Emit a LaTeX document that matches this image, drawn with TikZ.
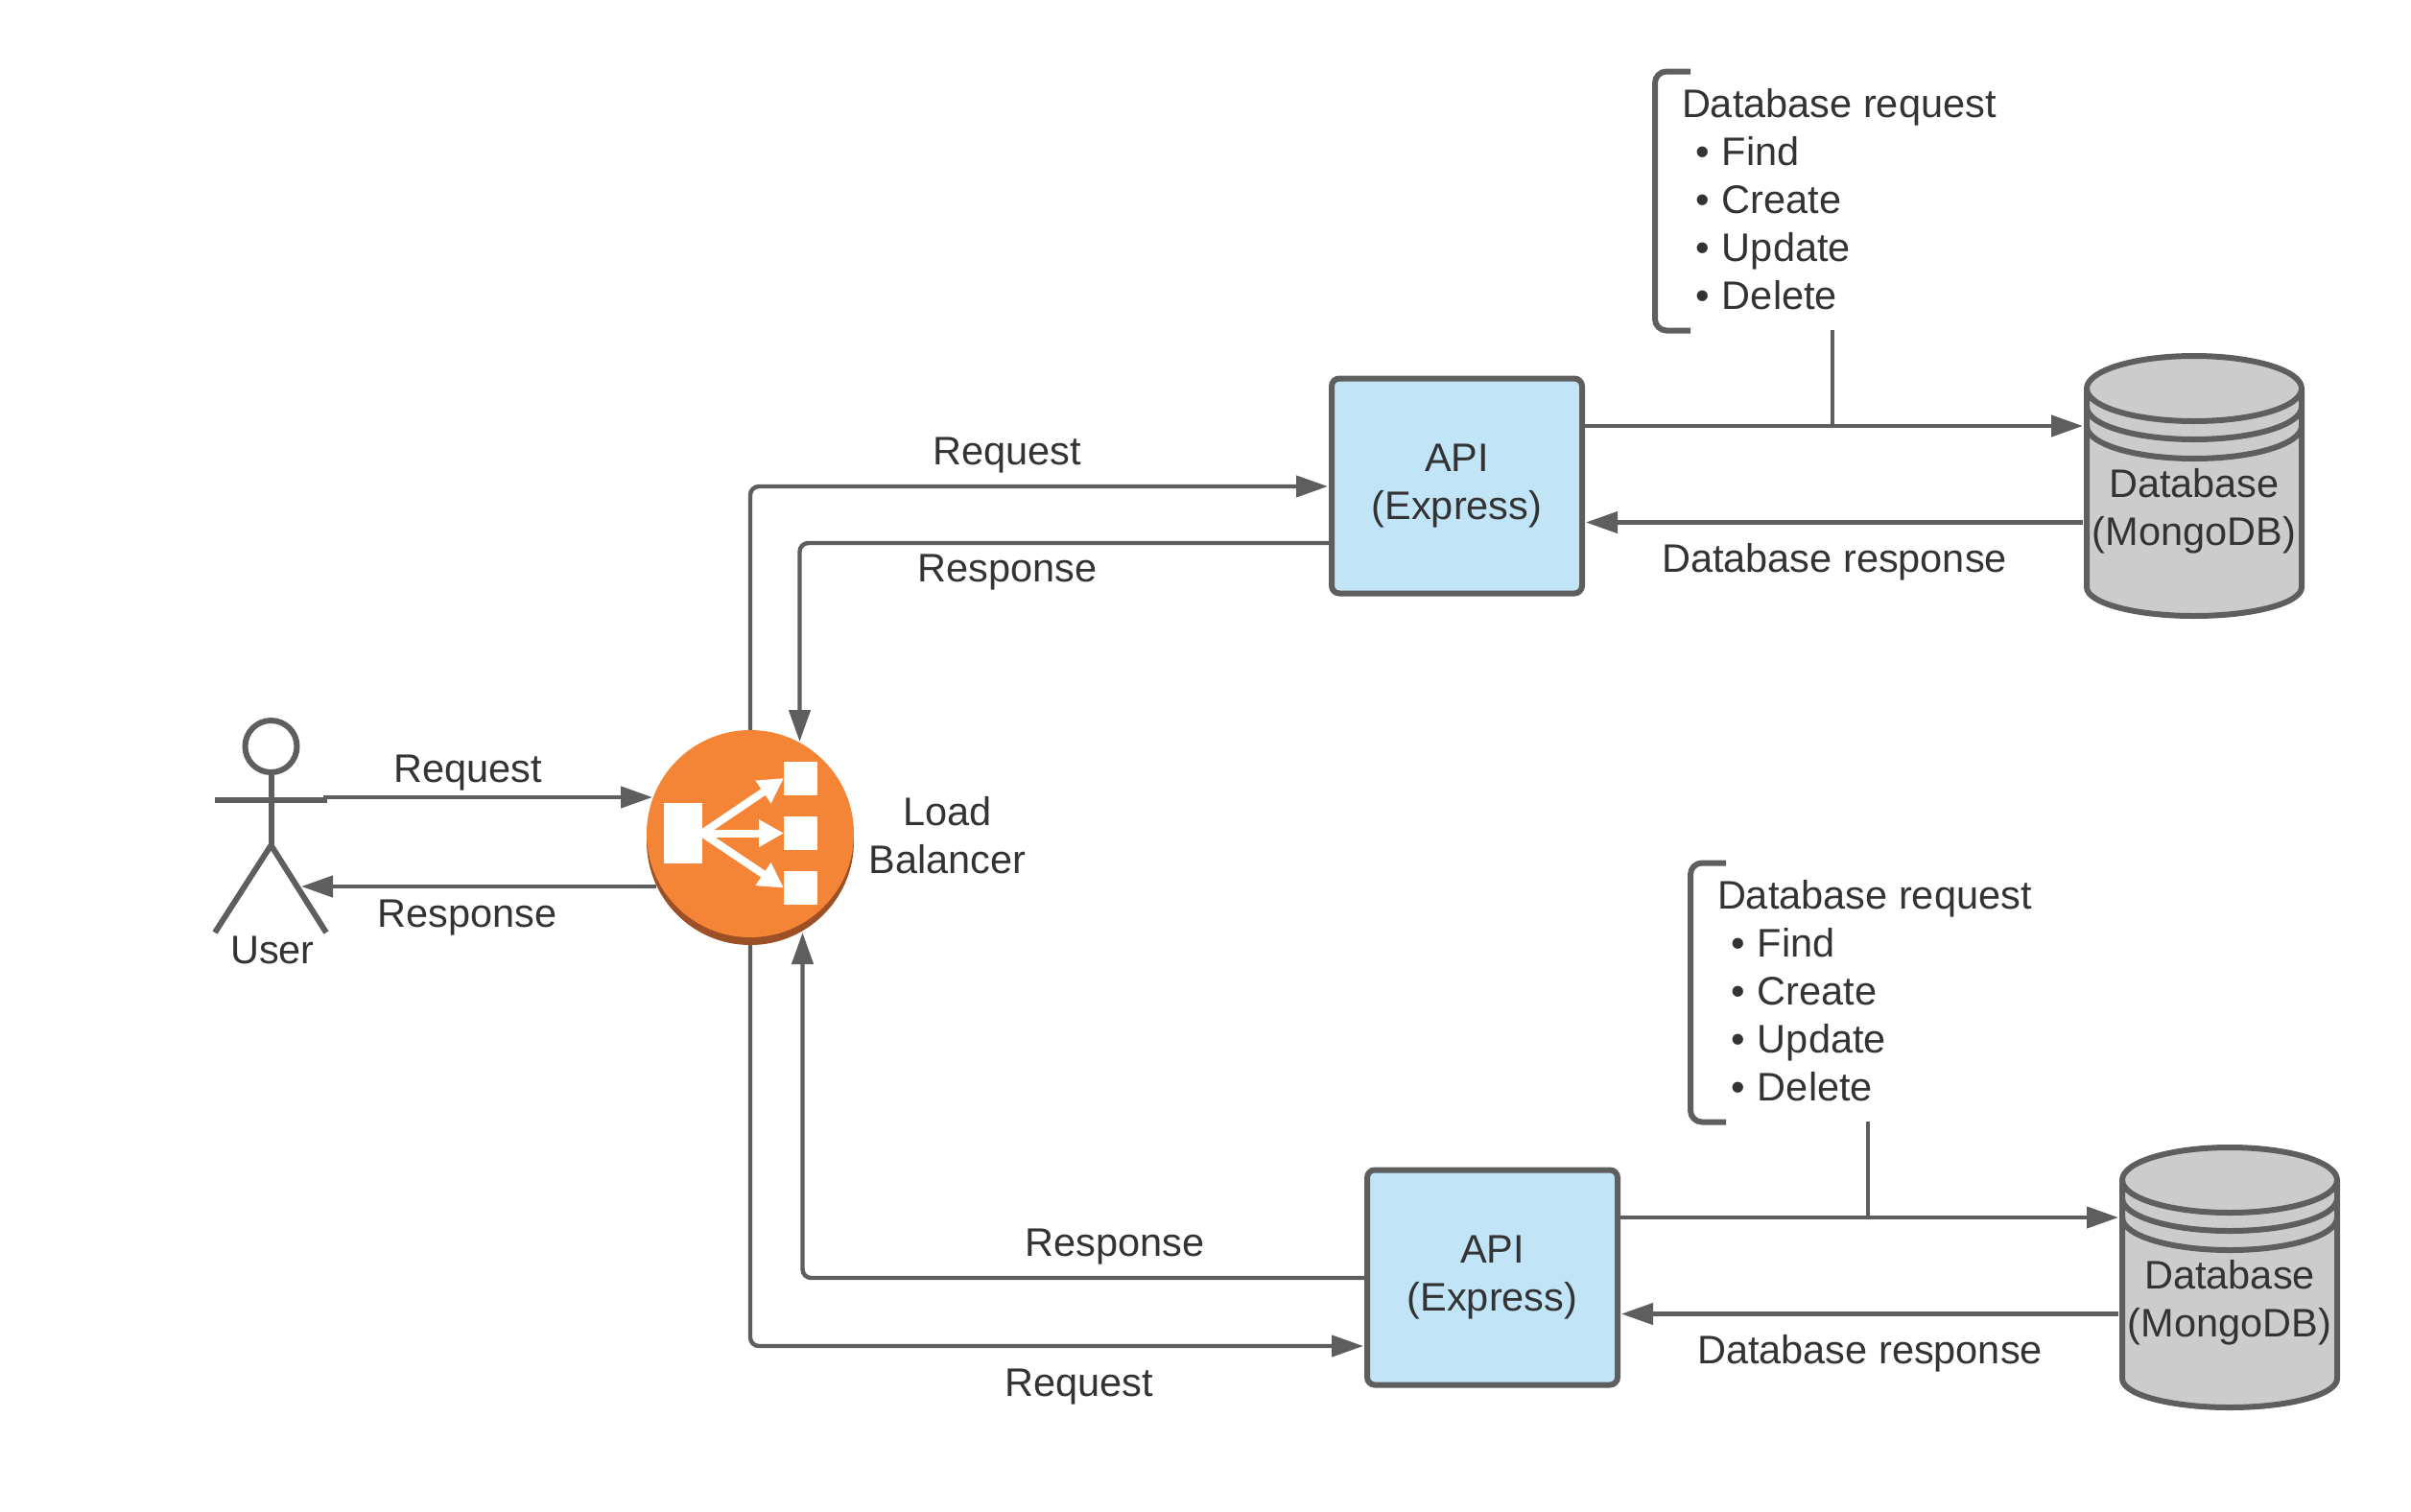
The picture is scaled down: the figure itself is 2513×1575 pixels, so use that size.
\documentclass[tikz,border=0pt]{standalone}
\usepackage{fontspec}
\setmainfont{Liberation Sans}
\usetikzlibrary{arrows.meta}
\definecolor{linegray}{HTML}{5E5E5E}
\definecolor{textgray}{HTML}{333333}
\definecolor{apiblue}{HTML}{C1E4F7}
\definecolor{dbgray}{HTML}{CCCCCC}
\definecolor{lborange}{HTML}{F58536}
\definecolor{lbbrown}{HTML}{9D5025}
\tikzset{
  txt/.style={font=\fontsize{41.5}{50}\selectfont,text=textgray,inner sep=0pt,outer sep=0pt},
  lbl/.style={txt,anchor=base},
  conn/.style={draw=linegray,line width=4.4pt,-{Triangle[length=33pt,width=22pt]},rounded corners=9pt},
  plain/.style={draw=linegray,line width=4.4pt},
  apibox/.style={txt,draw=linegray,line width=6pt,fill=apiblue,rounded corners=8pt,minimum width=261pt,minimum height=224pt,align=center},
  dbshape/.style={draw=linegray,line width=6pt,line join=round},
  stick/.style={draw=linegray,line width=6pt},
  icon/.style={draw=none,fill=white,inner sep=0pt,outer sep=0pt},
  iconarrow/.style={draw=white,line width=8pt,-{Triangle[length=26pt,width=27pt]}},
}
\newcommand{\bul}[1]{\makebox[42pt][l]{\hspace*{14pt}•}#1}
\begin{document}
\begin{tikzpicture}[x=1pt,y=-1pt]
\useasboundingbox (0,0) rectangle (2513,1575);
% actor
\node[circle,stick,minimum size=54pt,inner sep=0pt] (head) at (282.5,778) {};
\coordinate (hip) at (282.5,881);
\draw[stick] (head.south) -- (hip);
\draw[stick] (224,834) -- (341,834);
\draw[stick,line join=round] (224,972) -- (hip) -- (340,972);
\node[lbl] (user) at (284,1004) {User};
\coordinate (userout) at (337,831);
\coordinate (userin) at (314,924);
% load balancer
\node[circle,fill=lbbrown,minimum size=216pt,inner sep=0pt] (lbshadow) at (782,877) {};
\node[circle,fill=lborange,minimum size=216pt,inner sep=0pt] (lb) at (782,869) {};
\node[icon,minimum width=40pt,minimum height=63pt] (src) at (712,868.5) {};
\node[icon,minimum width=35pt,minimum height=35pt] (t1) at (834.5,811) {};
\node[icon,minimum width=35pt,minimum height=35pt] (t2) at (834.5,868.5) {};
\node[icon,minimum width=35pt,minimum height=35pt] (t3) at (834.5,925.5) {};
\draw[iconarrow] (src.east) -- (t1.west);
\draw[iconarrow] (src.east) -- (t2.west);
\draw[iconarrow] (src.east) -- (t3.west);
\node[txt,align=center] (lblabel) at (987.5,871) {Load\\Balancer};
\coordinate (lbin) at (680,831);
\coordinate (lbout) at (684,924);
\draw[conn] (userout) -- (lbin);
\draw[conn] (lbout) -- (userin);
% repeated right-hand groups
\foreach \p/\dx/\dy in {a/0/0,b/37/825}{
\begin{scope}[shift={(\dx,\dy)}]
  \node[apibox] (api\p) at (1518.5,506.5) {API\\(Express)};
  \draw[dbshape,fill=dbgray] (2175,405) arc[start angle=180,end angle=0,x radius=112pt,y radius=34pt]
     -- (2399,612) arc[start angle=0,end angle=-180,x radius=112pt,y radius=30pt] -- cycle;
  \draw[dbshape] (2175,405) arc[start angle=180,end angle=360,x radius=112pt,y radius=34pt];
  \draw[dbshape] (2175,424) arc[start angle=180,end angle=360,x radius=112pt,y radius=34pt];
  \draw[dbshape] (2175,444) arc[start angle=180,end angle=360,x radius=112pt,y radius=34pt];
  \node[txt,align=center] (db\p) at (2287,533) {Database\\(MongoDB)};
  \coordinate (q\p) at (1910,444);
  \coordinate (dbin\p) at (2171,444);
  \coordinate (dbout\p) at (2171,544.5);
  \coordinate (apiin\p) at (1653,544.5);
  \coordinate (apiout\p) at (1651,444);
  \draw[conn] (apiout\p) -- (dbin\p);
  \draw[conn] (dbout\p) -- (apiin\p);
  \node[lbl] (dr\p) at (1912,596) {Database response};
  \draw[line width=6pt,draw=linegray,rounded corners=12pt] (1762,74.5) -- (1725,74.5) -- (1725,344.5) -- (1762,344.5);
  \coordinate (brk\p) at (1910,344);
  \draw[plain] (brk\p) -- (q\p);
  \node[txt,align=left,anchor=north west] (list\p) at (1753,92.5) {Database request\\\bul{Find}\\\bul{Create}\\\bul{Update}\\\bul{Delete}};
\end{scope}
}
% load balancer to api connectors
\coordinate (ar1) at (1384,507);
\coordinate (ar2) at (1386,566);
\coordinate (lr2) at (833.5,773);
\coordinate (br1) at (1421,1403);
\coordinate (br2) at (1423,1332);
\coordinate (lr3) at (836.5,972);
\draw[conn] (lb.north) |- (ar1);
\draw[conn] (ar2) -| (lr2);
\draw[conn] (lbshadow.south) |- (br1);
\draw[conn] (br2) -| (lr3);
\node[lbl] (l1) at (488,815.5) {Request};
\node[lbl] (l2) at (487,966) {Response};
\node[lbl] (l3) at (1050,484) {Request};
\node[lbl] (l4) at (1050,606) {Response};
\node[lbl] (l5) at (1162,1309) {Response};
\node[lbl] (l6) at (1125,1455) {Request};
\end{tikzpicture}
\end{document}
